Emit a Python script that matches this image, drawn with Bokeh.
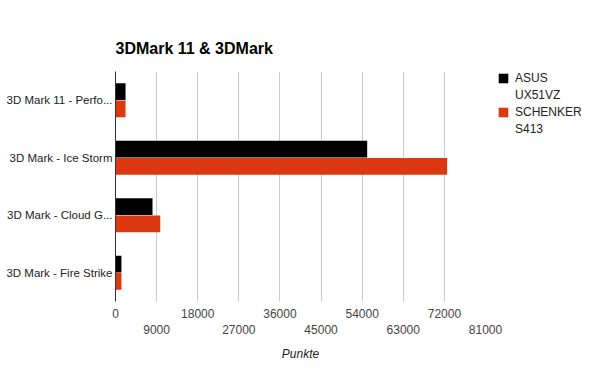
from bokeh.plotting import figure
from bokeh.models import (FactorRange, Range1d, LinearAxis, FixedTicker, Grid,
                          Legend, LegendItem, ColumnDataSource)
from bokeh.transform import dodge
from bokeh.embed import file_html
from bokeh.resources import INLINE

categories = ["3D Mark 11 - Perfo...", "3D Mark - Ice Storm",
              "3D Mark - Cloud G...", "3D Mark - Fire Strike"]
asus = [2200, 55100, 8100, 1300]
schenker = [2200, 72600, 9800, 1300]
series_lines = [["ASUS", "UX51VZ"], ["SCHENKER", "S413"]]
colors = ["#000000", "#dc3912"]
ticks_row1 = [0, 18000, 36000, 54000, 72000]
ticks_row2 = [9000, 27000, 45000, 63000, 81000]
x_max = 81000

FONT = "Liberation Sans"

src = ColumnDataSource(dict(cat=categories, asus=asus, schenker=schenker))

p = figure(y_range=FactorRange(factors=list(reversed(categories)), range_padding=0),
           x_range=Range1d(0, x_max),
           frame_width=370, frame_height=230,
           min_border_left=115, min_border_right=115,
           min_border_top=71, min_border_bottom=70,
           x_axis_location=None,
           output_backend="svg", toolbar_location=None,
           title="3DMark 11 & 3DMark")
p.outline_line_color = None
p.background_fill_color = "white"
p.border_fill_color = "white"
for g in p.xgrid:
    g.grid_line_color = None
p.ygrid.grid_line_color = None

p.title.text_font = FONT
p.title.text_font_size = "16px"
p.title.text_font_style = "bold"
p.title.text_color = "#000000"
p.title.align = "left"
p.title.standoff = 29

grid = Grid(dimension=0, ticker=FixedTicker(ticks=sorted(ticks_row1 + ticks_row2)),
            grid_line_color="#cccccc", grid_line_width=1)
p.add_layout(grid)

r1 = p.hbar(y=dodge("cat", 0.15, range=p.y_range), right="asus", left=0, height=0.29,
            source=src, fill_color=colors[0], line_color=None)
r2 = p.hbar(y=dodge("cat", -0.15, range=p.y_range), right="schenker", left=0, height=0.29,
            source=src, fill_color=colors[1], line_color=None)
# invisible renderers used only for the second line of each legend entry
d1 = p.hbar(y=[], right=[], left=0, height=0.29, fill_alpha=0, line_alpha=0)
d2 = p.hbar(y=[], right=[], left=0, height=0.29, fill_alpha=0, line_alpha=0)

ya = p.yaxis[0]
ya.major_tick_line_color = None
ya.major_tick_out = 0
ya.major_tick_in = 0
ya.minor_tick_line_color = None
ya.axis_line_color = "#333333"
ya.major_label_text_font = FONT
ya.major_label_text_font_size = "11.5px"
ya.major_label_text_color = "#222222"
ya.major_label_standoff = 3

for i, tks in enumerate([ticks_row1, ticks_row2]):
    ax = LinearAxis(ticker=FixedTicker(ticks=tks))
    ax.axis_line_color = None
    ax.major_tick_line_color = None
    ax.major_tick_out = 0
    ax.major_tick_in = 0
    ax.minor_tick_line_color = None
    ax.major_label_text_font = FONT
    ax.major_label_text_font_size = "12px"
    ax.major_label_text_color = "#444444"
    ax.major_label_standoff = 7 if i == 0 else 4
    if i == 1:
        ax.axis_label = "Punkte"
        ax.axis_label_text_font = FONT
        ax.axis_label_text_font_size = "12px"
        ax.axis_label_text_font_style = "italic"
        ax.axis_label_text_color = "#222222"
        ax.axis_label_standoff = 10
    p.add_layout(ax, "below")

legend = Legend(items=[LegendItem(label=series_lines[0][0], renderers=[r1]),
                       LegendItem(label=series_lines[0][1], renderers=[d1]),
                       LegendItem(label=series_lines[1][0], renderers=[r2]),
                       LegendItem(label=series_lines[1][1], renderers=[d2])],
                location=(12, 165), border_line_color=None,
                background_fill_color=None, padding=0, margin=0,
                glyph_width=12, glyph_height=12, label_height=12, label_standoff=6,
                label_text_font=FONT, label_text_font_size="12px",
                label_text_color="#222222", spacing=3)
p.add_layout(legend, "right")

open("out.html", "w").write(file_html(p, INLINE))
